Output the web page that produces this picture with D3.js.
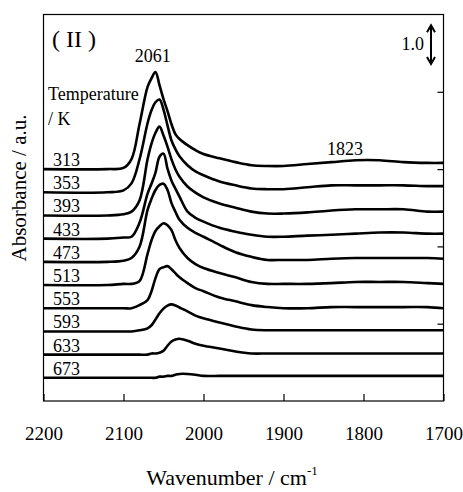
<!DOCTYPE html>
<html>
<head>
<meta charset="utf-8">
<script src="https://cdn.jsdelivr.net/npm/d3@7"></script>
<style>
  html, body { margin: 0; padding: 0; background: #fff; }
  svg { display: block; }
  text { font-family: 'Liberation Serif', 'DejaVu Serif', serif; }
</style>
</head>
<body>
<div id="chart"></div>
<script>
// wavenumber grid (cm-1) shared by all spectra
const wavenumbers = [2200, 2120, 2100, 2090, 2080, 2070, 2065, 2060, 2055, 2050, 2045, 2040, 2035, 2030,
    2020, 2010, 2000, 1980, 1960, 1940, 1920, 1900, 1870, 1840, 1810, 1780, 1750, 1720, 1700];

const temperatures = ['313', '353', '393', '433', '473', '513', '553', '593', '633', '673'];
// vertical stacking offset of each spectrum (absorbance units)
const offsets = [6.0, 5.4, 4.8, 4.2, 3.6, 3.0, 2.4, 1.8, 1.2, 0.6];

const a313 = [0, 0, .03, .26, 1.16, 2.12, 2.35, 2.51, 2.17, 1.81, 1.50, 1.16, .90, .78, .62, .49, .39, .28, .18, .10, .08, .08, .13, .18, .23, .23, .18, .16, .16];
const a353 = [0, 0, .05, .23, .85, 1.78, 2.12, 2.33, 2.40, 2.14, 1.73, 1.34, 1.11, .93, .70, .54, .44, .28, .18, .10, .08, .08, .13, .18, .18, .18, .18, .16, .16];
const a393 = [0, 0, .03, .10, .39, 1.45, 1.86, 2.14, 2.30, 2.07, 1.78, 1.45, 1.19, 1.00, .75, .59, .47, .31, .20, .10, .05, .05, .08, .13, .16, .16, .16, .10, .10];
const a433 = [0, 0, .03, .05, .41, 1.16, 1.42, 1.71, 2.12, 2.20, 1.81, 1.50, 1.29, 1.09, .70, .54, .44, .28, .18, .10, .05, .05, .08, .10, .13, .16, .16, .13, .13];
const a473 = [0, 0, .03, .10, .39, 1.34, 1.63, 1.86, 1.99, 2.02, 1.86, 1.52, 1.29, 1.09, .88, .75, .65, .44, .25, .13, .05, .05, .05, .08, .10, .10, .10, .10, .08];
const a513 = [0, 0, .03, .03, .10, .80, 1.16, 1.40, 1.52, 1.60, 1.55, 1.42, 1.16, .96, .70, .54, .44, .31, .20, .08, .03, .03, .03, .05, .08, .08, .08, .05, .03];
const a553 = [0, 0, 0, 0, .08, .21, .44, .78, 1.01, 1.06, 1.09, 1.01, .90, .80, .65, .52, .44, .28, .18, .08, .03, 0, 0, .03, .03, .03, .03, .03, 0];
const a593 = [0, 0, 0, 0, .03, .08, .16, .31, .47, .59, .67, .70, .67, .62, .52, .41, .34, .23, .13, .05, .03, .03, .03, .03, .03, .03, .03, .03, .03];
const a633 = [0, 0, 0, 0, 0, 0, .03, .03, .05, .10, .23, .34, .39, .41, .36, .28, .23, .16, .08, .03, .03, .03, .03, .03, .03, .03, .03, .03, .03];
const a673 = [0, 0, 0, 0, 0, 0, 0, 0, .03, .03, .05, .05, .08, .10, .10, .08, .05, .05, .05, .05, .05, .05, .05, .05, .05, .05, .05, .05, .05];

const spectra = [a313, a353, a393, a433, a473, a513, a553, a593, a633, a673];

const xTicks = [2200, 2100, 2000, 1900, 1800, 1700];
const yTicks = [2, 4, 6, 8];

const width = 463, height = 492;
const plotLeft = 43.5, plotRight = 443.5, plotTop = 14.5, plotBottom = 401;
const serif = "'Liberation Serif', 'DejaVu Serif', serif";

const x = d3.scaleLinear().domain([2200, 1700]).range([plotLeft, plotRight]);
const y = d3.scaleLinear().domain([0, 10]).range([plotBottom, plotTop]);

const svg = d3.select('#chart').append('svg')
    .attr('width', width)
    .attr('height', height)
    .attr('viewBox', [0, 0, width, height])
    .attr('font-family', serif);

// frame
svg.append('rect')
    .attr('x', plotLeft).attr('y', plotTop)
    .attr('width', plotRight - plotLeft).attr('height', plotBottom - plotTop)
    .attr('fill', 'none').attr('stroke', '#000').attr('stroke-width', 1.2);

// bottom axis, ticks pointing inward
const xAxis = svg.append('g')
    .attr('transform', `translate(0,${plotBottom})`)
    .call(d3.axisBottom(x).tickValues(xTicks).tickSize(-7).tickPadding(26).tickFormat(d3.format('d')));
xAxis.select('.domain').remove();
xAxis.attr('font-family', serif).attr('font-size', 19);
xAxis.selectAll('line').attr('stroke-width', 1.2);
xAxis.selectAll('text').attr('fill', '#000');

// right axis, inward ticks only
const yAxis = svg.append('g')
    .attr('transform', `translate(${plotRight},0)`)
    .call(d3.axisLeft(y).tickValues(yTicks).tickSize(6).tickFormat(''));
yAxis.select('.domain').remove();
yAxis.selectAll('line').attr('stroke-width', 1.2);

// spectra
const line = d3.line()
    .x((d, i) => x(wavenumbers[i]))
    .y(d => y(d))
    .curve(d3.curveCatmullRom.alpha(0.5));

svg.append('g')
    .selectAll('path')
    .data(spectra)
    .join('path')
    .attr('d', (s, k) => line(s.map(v => v + offsets[k])))
    .attr('fill', 'none')
    .attr('stroke', '#000')
    .attr('stroke-width', 2.6)
    .attr('stroke-linejoin', 'round');

// temperature labels
svg.append('g')
    .selectAll('text')
    .data(temperatures)
    .join('text')
    .attr('x', 53)
    .attr('y', (d, k) => y(offsets[k]) - 3)
    .attr('font-size', 18)
    .text(d => d);

svg.append('text').attr('x', 48).attr('y', 100).attr('font-size', 18).text('Temperature');
svg.append('text').attr('x', 48).attr('y', 125).attr('font-size', 18).text('/ K');

svg.append('text').attr('x', 52).attr('y', 47).attr('font-size', 24).text('( II )');

svg.append('text').attr('x', x(2061) - 2).attr('y', 62).attr('text-anchor', 'middle').attr('font-size', 18).text('2061');
svg.append('text').attr('x', x(1823)).attr('y', 155).attr('text-anchor', 'middle').attr('font-size', 18).text('1823');

// 1.0 scale bar
const barX = 431, barLo = y(8.72), barHi = y(9.72);
svg.append('line')
    .attr('x1', barX).attr('x2', barX).attr('y1', barLo).attr('y2', barHi)
    .attr('stroke', '#000').attr('stroke-width', 2);
svg.append('path')
    .attr('d', `M${barX - 4},${barHi + 7}L${barX},${barHi}L${barX + 4},${barHi + 7}` +
        `M${barX - 4},${barLo - 7}L${barX},${barLo}L${barX + 4},${barLo - 7}`)
    .attr('fill', 'none').attr('stroke', '#000').attr('stroke-width', 2);
svg.append('text').attr('x', 424).attr('y', 50).attr('text-anchor', 'end').attr('font-size', 18).text('1.0');

// axis titles
const xt = svg.append('text')
    .attr('x', 232).attr('y', 485)
    .attr('text-anchor', 'middle')
    .attr('font-size', 22);
xt.append('tspan').text('Wavenumber / cm');
xt.append('tspan').attr('dy', -10).attr('font-size', 13).text('-1');

svg.append('text')
    .attr('transform', `translate(26,188) rotate(-90)`)
    .attr('text-anchor', 'middle')
    .attr('font-size', 21)
    .text('Absorbance / a.u.');
</script>
</body>
</html>
